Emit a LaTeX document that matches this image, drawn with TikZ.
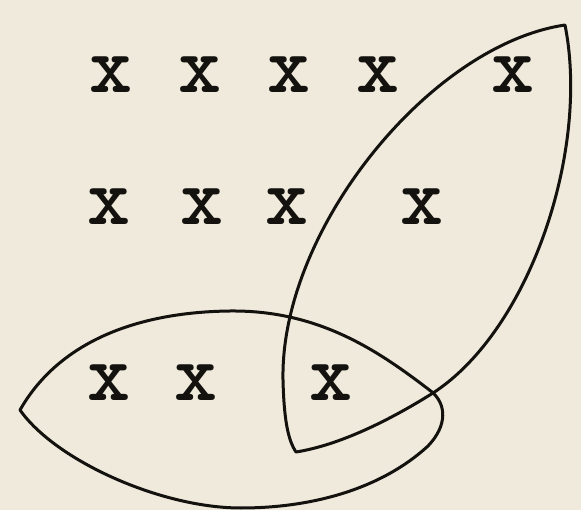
\documentclass[tikz,border=0pt]{standalone}
\usepackage{fontspec}
\definecolor{paper}{RGB}{239,234,219}
\definecolor{ink}{RGB}{20,18,15}
\begin{document}
\begin{tikzpicture}[x=1pt,y=-1pt,
  xmark/.style={inner sep=0pt,text=ink,font=\fontsize{82}{82}\selectfont\ttfamily\bfseries},
  loop/.style={draw=ink,line width=3pt,line join=round}]
\fill[paper] (0,0) rectangle (581,510);
\useasboundingbox (0,0) rectangle (581,510);
% row 1
\node[xmark] (a1) at (111,75) {x};
\node[xmark] (a2) at (200,75) {x};
\node[xmark] (a3) at (289,75) {x};
\node[xmark] (a4) at (378,75) {x};
\node[xmark] (a5) at (513,75) {x};
% row 2
\node[xmark] (b1) at (109,207) {x};
\node[xmark] (b2) at (202,207) {x};
\node[xmark] (b3) at (287,207) {x};
\node[xmark] (b4) at (422,207) {x};
% row 3
\node[xmark] (c1) at (109,383) {x};
\node[xmark] (c2) at (196,383) {x};
\node[xmark] (c3) at (331,383) {x};
% coordinates of the loops
\coordinate (T) at (565,25);
\coordinate (B) at (296,452);
\coordinate (L) at (20,410);
% upper-right leaf
\draw[loop] (T) .. controls (430,45) and (280,230) .. (283,380)
  .. controls (284,420) and (288,440) .. (B)
  .. controls (340,445) and (390,420) .. (433,393)
  .. controls (530,330) and (590,150) .. (T) -- cycle;
% lower leaf
\draw[loop] (L) .. controls (60,340) and (140,312) .. (230,311)
  .. controls (320,310) and (380,352) .. (432,392)
  .. controls (446,404) and (448,425) .. (428,446)
  .. controls (380,490) and (310,508) .. (241,508)
  .. controls (160,508) and (55,460) .. (L) -- cycle;
\end{tikzpicture}
\end{document}
